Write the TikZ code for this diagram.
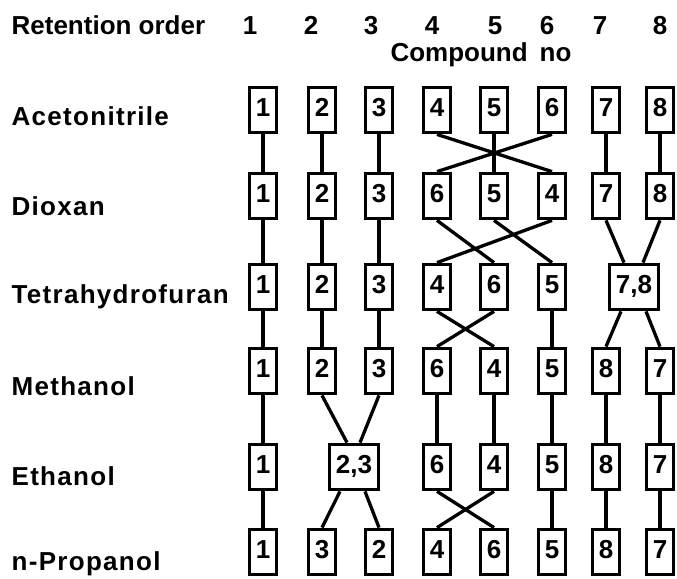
\documentclass[tikz,border=0pt]{standalone}
\usepackage{fontspec}
\setmainfont{Liberation Sans}
\newfontfamily\solventfont[LetterSpace=5]{Liberation Sans}
\usetikzlibrary{positioning}

\begin{document}
\begin{tikzpicture}[
    x=1pt, y=-1pt,
    font=\fontsize{26}{30}\selectfont\bfseries,
    every path/.style={line width=3.3pt},
    cbox/.style={
        draw,
        line width=3.3pt,
        minimum width=26.5pt,
        minimum height=45.5pt,
        inner sep=0pt,
        text depth=5pt
    },
    mbox/.style={cbox, minimum width=49pt},
    solvent/.style={anchor=base west, inner sep=0pt,
                    font=\fontsize{26}{30}\solventfont\bfseries},
    colno/.style={anchor=base, inner sep=0pt}
]
\useasboundingbox (0,0) rectangle (677,578);

% Header
\node[anchor=base west, inner sep=0pt] (head) at (10,35) {Retention order};
\node[colno] (n1) at (250,35) {1};
\node[colno] (n2) at (311,35) {2};
\node[colno] (n3) at (371,35) {3};
\node[colno] (n4) at (432,35) {4};
\node[colno] (n5) at (495,35) {5};
\node[colno] (n6) at (547,35) {6};
\node[colno] (n7) at (600,35) {7};
\node[colno] (n8) at (660,35) {8};
\node[colno] (cno) at (481,62) {Compound\hspace{12pt}no};

% Solvent labels
\node[solvent] (l_acn) at (10,125) {Acetonitrile};
\node[solvent] (l_diox) at (10,215) {Dioxan};
\node[solvent] (l_thf) at (10,303) {Tetrahydrofuran};
\node[solvent] (l_meoh) at (10,395) {Methanol};
\node[solvent] (l_etoh) at (10,485) {Ethanol};
\node[solvent] (l_prop) at (10,570) {n-Propanol};

% Acetonitrile
\node[cbox] (acn1) at (263,110) {1};
\node[cbox] (acn2) at (322,110) {2};
\node[cbox] (acn3) at (379,110) {3};
\node[cbox] (acn4) at (437,110) {4};
\node[cbox] (acn5) at (494,110) {5};
\node[cbox] (acn6) at (552,110) {6};
\node[cbox] (acn7) at (606,110) {7};
\node[cbox] (acn8) at (660,110) {8};

% Dioxan
\node[cbox] (diox1) at (263,196) {1};
\node[cbox] (diox2) at (322,196) {2};
\node[cbox] (diox3) at (379,196) {3};
\node[cbox] (diox4) at (437,196) {6};
\node[cbox] (diox5) at (494,196) {5};
\node[cbox] (diox6) at (552,196) {4};
\node[cbox] (diox7) at (606,196) {7};
\node[cbox] (diox8) at (660,196) {8};

% Tetrahydrofuran
\node[cbox] (thf1) at (263,287) {1};
\node[cbox] (thf2) at (322,287) {2};
\node[cbox] (thf3) at (379,287) {3};
\node[cbox] (thf4) at (437,287) {4};
\node[cbox] (thf5) at (494,287) {6};
\node[cbox] (thf6) at (552,287) {5};
\node[mbox] (thf78) at (634,287) {7,8};

% Methanol
\node[cbox] (meoh1) at (263,371) {1};
\node[cbox] (meoh2) at (322,371) {2};
\node[cbox] (meoh3) at (379,371) {3};
\node[cbox] (meoh4) at (437,371) {6};
\node[cbox] (meoh5) at (494,371) {4};
\node[cbox] (meoh6) at (552,371) {5};
\node[cbox] (meoh7) at (606,371) {8};
\node[cbox] (meoh8) at (660,371) {7};

% Ethanol
\node[cbox] (etoh1) at (263,467) {1};
\node[mbox] (etoh23) at (354,467) {2,3};
\node[cbox] (etoh4) at (437,467) {6};
\node[cbox] (etoh5) at (494,467) {4};
\node[cbox] (etoh6) at (552,467) {5};
\node[cbox] (etoh7) at (606,467) {8};
\node[cbox] (etoh8) at (660,467) {7};

% n-Propanol
\node[cbox] (prop1) at (263,552) {1};
\node[cbox] (prop2) at (322,552) {3};
\node[cbox] (prop3) at (379,552) {2};
\node[cbox] (prop4) at (437,552) {4};
\node[cbox] (prop5) at (494,552) {6};
\node[cbox] (prop6) at (552,552) {5};
\node[cbox] (prop7) at (606,552) {8};
\node[cbox] (prop8) at (660,552) {7};

% Acetonitrile -> Dioxan
\draw (acn1.south) -- (diox1.north);
\draw (acn2.south) -- (diox2.north);
\draw (acn3.south) -- (diox3.north);
\draw (acn4.south) -- (diox6.north);
\draw (acn5.south) -- (diox5.north);
\draw (acn6.south) -- (diox4.north);
\draw (acn7.south) -- (diox7.north);
\draw (acn8.south) -- (diox8.north);

% Dioxan -> Tetrahydrofuran
\draw (diox1.south) -- (thf1.north);
\draw (diox2.south) -- (thf2.north);
\draw (diox3.south) -- (thf3.north);
\draw (diox4.south) -- (thf5.north);
\draw (diox5.south) -- (thf6.north);
\draw (diox6.south) -- (thf4.north);
\draw (diox7.south) -- ([xshift=-10pt]thf78.north);
\draw (diox8.south) -- ([xshift=9pt]thf78.north);

% Tetrahydrofuran -> Methanol
\draw (thf1.south) -- (meoh1.north);
\draw (thf2.south) -- (meoh2.north);
\draw (thf3.south) -- (meoh3.north);
\draw (thf4.south) -- (meoh5.north);
\draw (thf5.south) -- (meoh4.north);
\draw (thf6.south) -- (meoh6.north);
\draw ([xshift=-13pt]thf78.south) -- (meoh7.north);
\draw ([xshift=12pt]thf78.south) -- (meoh8.north);

% Methanol -> Ethanol
\draw (meoh1.south) -- (etoh1.north);
\draw (meoh2.south) -- ([xshift=-7pt]etoh23.north);
\draw (meoh3.south) -- ([xshift=6pt]etoh23.north);
\draw (meoh4.south) -- (etoh4.north);
\draw (meoh5.south) -- (etoh5.north);
\draw (meoh6.south) -- (etoh6.north);
\draw (meoh7.south) -- (etoh7.north);
\draw (meoh8.south) -- (etoh8.north);

% Ethanol -> n-Propanol
\draw (etoh1.south) -- (prop1.north);
\draw ([xshift=-14pt]etoh23.south) -- (prop2.north);
\draw ([xshift=11pt]etoh23.south) -- (prop3.north);
\draw (etoh4.south) -- (prop5.north);
\draw (etoh5.south) -- (prop4.north);
\draw (etoh6.south) -- (prop6.north);
\draw (etoh7.south) -- (prop7.north);
\draw (etoh8.south) -- (prop8.north);

\end{tikzpicture}
\end{document}
